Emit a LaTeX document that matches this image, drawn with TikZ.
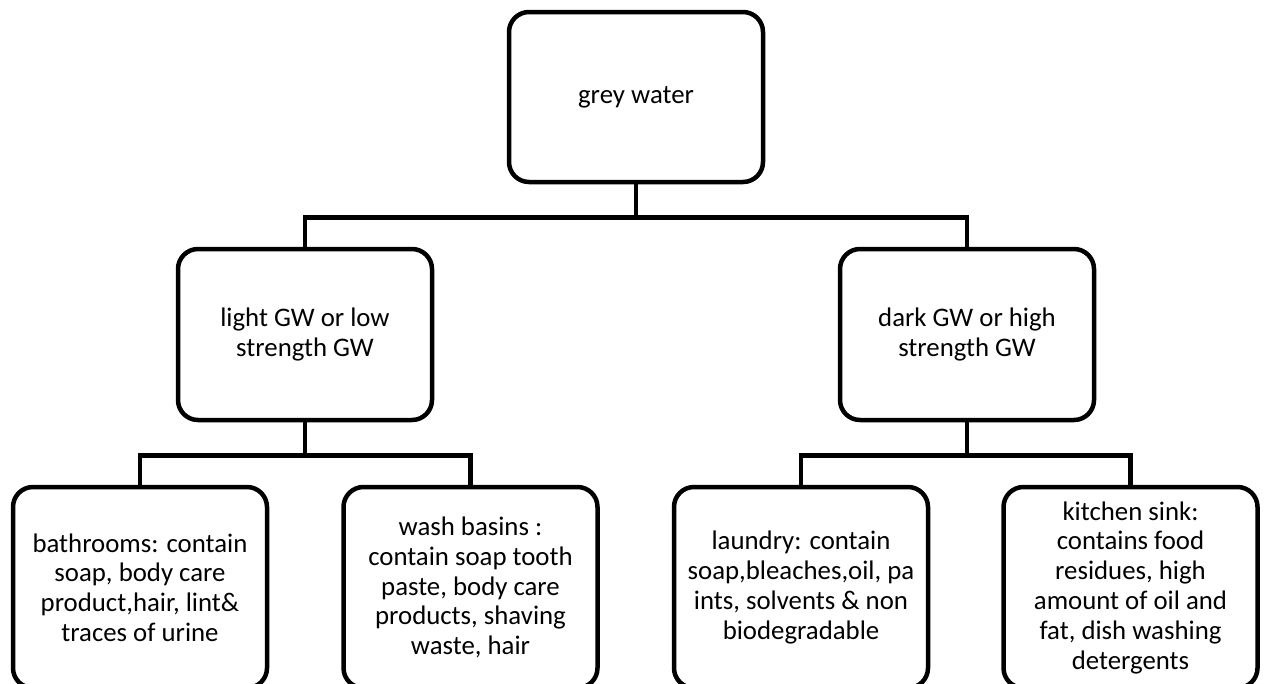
\documentclass[tikz,border=0pt]{standalone}
\usepackage{fontspec}
\setmainfont{Carlito}
\begin{document}
\begin{tikzpicture}[x=1pt,y=-1pt,
  box/.style={draw=black, line width=4.5pt, rounded corners=20pt, align=center,
    font=\fontsize{26.8}{29.8}\selectfont, inner sep=0pt, minimum width=254pt},
  topbox/.style={box, minimum height=170pt},
  midbox/.style={box, minimum height=171pt},
  leafbox/.style={box, minimum height=201pt},
  conn/.style={line width=4.5pt}]
\useasboundingbox (0,0) rectangle (1271,683);
\node[topbox] (top) at (636,97) {grey water};
\node[midbox] (ml) at (305,334.5) {light GW or low\\strength GW};
\node[midbox] (mr) at (967,334.5) {dark GW or high\\strength GW};
\node[leafbox] (b1) at (140,587.5) {bathrooms: contain\\soap, body care\\product,hair, lint\&\\traces of urine};
\node[leafbox] (b2) at (470.5,587.5) {wash basins :\\contain soap tooth\\paste, body care\\products, shaving\\waste, hair};
\node[leafbox] (b3) at (801,587.5) {laundry: contain\\soap,bleaches,oil, pa\\ints, solvents \& non\\biodegradable};
\node[leafbox] (b4) at (1130.5,587.5) {kitchen sink:\\contains food\\residues, high\\amount of oil and\\fat, dish washing\\detergents};
\draw[conn] (top.south) -- ++(0,33) coordinate (j1);
\draw[conn] (ml.north) |- (j1) -| (mr.north);
\draw[conn] (ml.south) -- ++(0,33) coordinate (j2);
\draw[conn] (b1.north) |- (j2) -| (b2.north);
\draw[conn] (mr.south) -- ++(0,33) coordinate (j3);
\draw[conn] (b3.north) |- (j3) -| (b4.north);
\end{tikzpicture}
\end{document}
